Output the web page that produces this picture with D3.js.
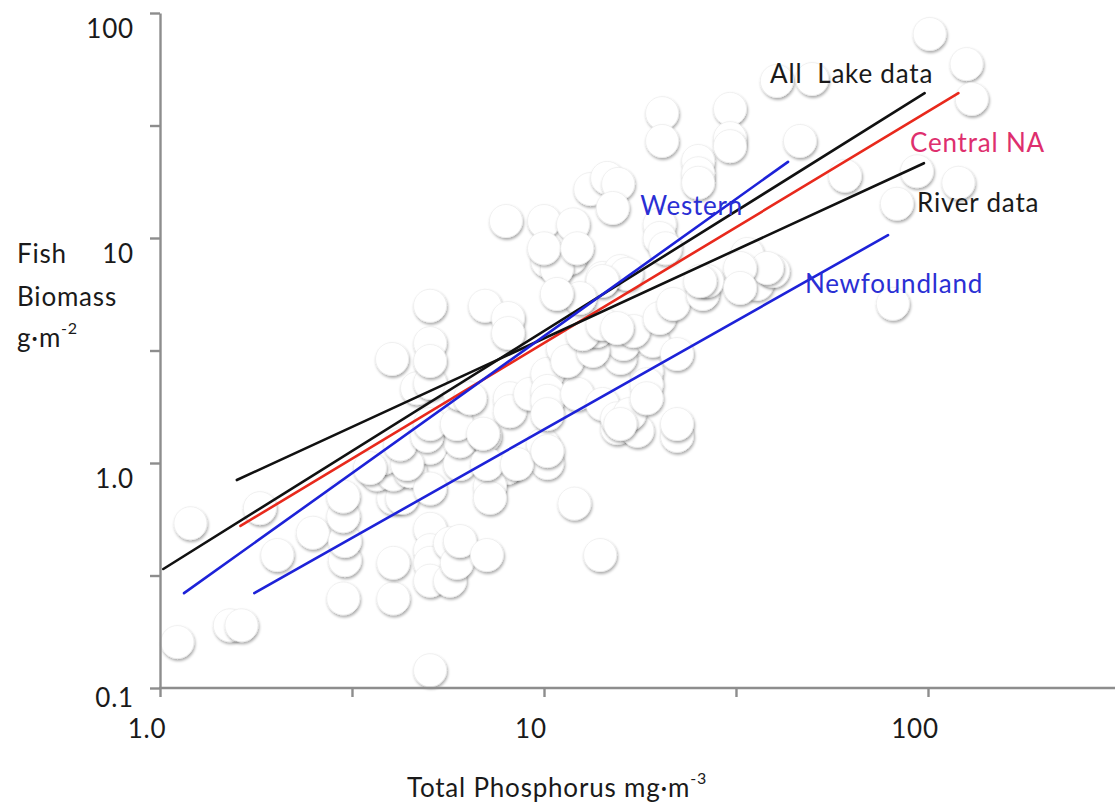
<!DOCTYPE html>
<html>
<head>
<meta charset="utf-8">
<script src="https://cdn.jsdelivr.net/npm/d3@7"></script>
<style>
  body { margin: 0; background: #fff; }
  svg { display: block; }
  text { font-family: Lato, "Open Sans", sans-serif; fill: #1a1a1a; letter-spacing: 0.8px; }
</style>
</head>
<body>
<svg id="chart" width="1115" height="802"></svg>
<script>
// Total phosphorus (mg·m-3) and fish biomass (g·m-2) for each lake
const phosphorus = [
  1.11, 1.2, 1.52, 1.63, 1.82, 2.02, 2.5, 3.0, 3.03, 3.03, 3.0, 3.0,
  4.05, 4.05, 4.05, 4.27, 3.67, 4.05, 4.48, 5.05, 5.05, 5.05, 5.05, 5.05,
  5.05, 5.05, 5.69, 5.69, 5.93, 6.04, 7.1, 14.0, 12.0, 22.2,
  6.04, 6.04, 7.02, 8.0, 7.23, 7.23, 9.94, 10.2, 15.5, 17.5, 3.81, 3.52,
  4.4, 7.1, 8.5, 4.22, 4.96, 5.05, 5.93, 6.94, 4.67, 5.05, 6.04, 6.42,
  8.15, 8.15, 9.2, 10.2, 10.2, 10.2, 10.2, 10.2, 12.2, 14.2, 15.5, 16.7,
  15.8, 22.2, 18.5, 18.5, 18.5, 15.8, 16.1, 19.2, 22.2, 17.1, 20.0, 21.7,
  25.9, 26.6, 33.0, 35.9, 39.5, 81, 11.2, 11.5, 13.4, 13.7, 12.6, 14.2,
  15.5, 10.2, 11.7, 10.8, 14.2, 15.8, 5.05, 5.05, 5.05, 4.02, 7.02, 8.06,
  8.06, 7.96, 10.0, 10.0, 11.9, 12.2, 13.2, 14.6, 15.6, 15.1, 20.0, 20.0,
  20.7, 16.4, 14.2, 25.5, 12.4, 10.8, 20.3, 20.3, 30.5, 30.5, 30.5, 25.2,
  25.2, 25.2, 46.4, 40.4, 49.9, 101, 126, 130, 60.8, 93.6, 120, 83,
  33.8, 38.1, 32.4, 32.4
];
const biomass = [
  0.16, 0.54, 0.19, 0.19, 0.63, 0.39, 0.49, 0.25, 0.37, 0.45, 0.58, 0.71,
  0.25, 0.36, 0.70, 0.70, 0.89, 0.89, 0.92, 1.17, 0.77, 0.51, 0.41, 0.36,
  0.30, 0.12, 0.44, 0.30, 0.36, 0.45, 0.39, 0.39, 0.66, 1.32,
  0.99, 1.25, 1.32, 0.95, 0.79, 0.70, 1.21, 1.0, 1.43, 1.39, 1.05, 0.95,
  0.99, 0.99, 0.99, 1.21, 1.32, 1.49, 1.49, 1.35, 2.15, 2.27, 2.03, 1.94,
  1.94, 1.70, 2.03, 2.49, 2.09, 1.89, 1.65, 1.13, 2.03, 1.83, 1.58, 1.65,
  1.49, 1.49, 2.56, 2.24, 1.94, 2.93, 3.38, 3.49, 3.05, 3.86, 4.41, 5.09,
  5.64, 6.44, 7.66, 6.25, 7.13, 5.1, 3.24, 2.84, 3.15, 3.86, 3.74, 4.15,
  3.98, 7.9, 8.15, 7.28, 6.64, 7.13, 5.0, 3.41, 2.84, 2.9, 5.0, 4.41,
  3.78, 11.9, 11.9, 9.0, 11.5, 9.0, 16.5, 18.5, 17.4, 13.6, 11.5, 10.0,
  9.0, 6.92, 6.44, 6.44, 5.41, 5.64, 35.9, 27.0, 37.5, 27.8, 25.6, 22.0,
  19.4, 17.6, 27.0, 49.9, 50.9, 80.7, 59.3, 41.5, 18.9, 19.8, 17.6, 14.2,
  8.49, 7.36, 7.36, 6.0
];

// Regression lines: name, start and end (TP, biomass)
const fitNames = ["All Lake data", "Central NA", "River data", "Western", "Newfoundland"];
const fitStartTP = [1.02, 1.62, 1.585, 1.155, 1.76];
const fitStartFB = [0.338, 0.525, 0.84, 0.264, 0.264];
const fitEndTP   = [98, 120, 97.6, 43.2, 78.7];
const fitEndFB   = [44, 44, 21.5, 21.8, 10.3];

// Line captions and where they sit (TP, biomass at text middle-left)
const captionText = ["All  Lake data", "Central NA", "River data", "Western", "Newfoundland"];
const captionTP = [38.8, 89.8, 93.6, 17.8, 47.8];
const captionFB = [54.1, 26.7, 14.5, 14.0, 6.31];

// Axis ticks (labelled decades and unlabelled half-decades)
const xTickValues = [1, 3.162, 10, 31.62, 100];
const yTickValues = [0.1, 0.3162, 1, 3.162, 10, 31.62, 100];
const xTickLabels = { 1: "1.0", 10: "10", 100: "100" };
const yTickLabels = { 0.1: "0.1", 1: "1.0", 10: "10", 100: "100" };

const lineColors = ["#111111", "#e8291c", "#111111", "#1d22d8", "#1d22d8"];
const captionColors = ["#1a1a1a", "#de2f6e", "#1a1a1a", "#2a2fd4", "#2a2fd4"];

const svg = d3.select("#chart");
const x0 = 160, decadeX = 384;
const xMax = 307;
const x = d3.scaleLog().domain([1, xMax]).range([x0, x0 + decadeX * Math.log10(xMax)]);
const y = d3.scaleLog().domain([0.1, 100]).range([688, 13]);

// Soft shadow beneath each bubble
const defs = svg.append("defs");
const f = defs.append("filter").attr("id", "bubbleShadow")
  .attr("x", "-40%").attr("y", "-40%").attr("width", "180%").attr("height", "180%");
f.append("feGaussianBlur").attr("in", "SourceAlpha").attr("stdDeviation", 1.8).attr("result", "blur");
f.append("feOffset").attr("in", "blur").attr("dx", 0.8).attr("dy", 2.2).attr("result", "off");
f.append("feComponentTransfer").attr("in", "off").attr("result", "shade")
  .append("feFuncA").attr("type", "linear").attr("slope", 0.34);
const merge = f.append("feMerge");
merge.append("feMergeNode").attr("in", "shade");
merge.append("feMergeNode").attr("in", "SourceGraphic");

const points = phosphorus.map((tp, i) => ({ tp, fb: biomass[i] }));

svg.append("g").selectAll("circle").data(points).join("circle")
  .attr("cx", d => x(d.tp))
  .attr("cy", d => y(d.fb))
  .attr("r", 16.5)
  .attr("fill", "#ffffff")
  .attr("stroke", "#ebebeb")
  .attr("stroke-width", 0.7)
  .attr("filter", "url(#bubbleShadow)");

// Axes
const axisColor = "#8d8d8d";
const xAxis = svg.append("g").attr("transform", `translate(0,${y(0.1)})`)
  .call(d3.axisBottom(x).tickValues(xTickValues).tickSize(9).tickSizeOuter(0).tickFormat(""));
const yAxis = svg.append("g").attr("transform", `translate(${x0},0)`)
  .call(d3.axisLeft(y).tickValues(yTickValues).tickSize(10).tickSizeOuter(0).tickFormat(""));
[xAxis, yAxis].forEach(g => {
  g.select(".domain").attr("stroke", axisColor).attr("stroke-width", 2.4);
  g.selectAll(".tick line").attr("stroke", axisColor).attr("stroke-width", 2.4);
});
xAxis.select(".domain").attr("d", `M${x0 - 1},0H1115`);

// Tick labels
svg.append("g").selectAll("text").data(Object.keys(xTickLabels).map(Number)).join("text")
  .attr("x", d => x(d) - 13)
  .attr("y", 728)
  .attr("text-anchor", "middle")
  .attr("dominant-baseline", "central")
  .attr("font-size", 26)
  .text(d => xTickLabels[d]);

svg.append("g").selectAll("text").data(Object.keys(yTickLabels).map(Number)).join("text")
  .attr("x", 134)
  .attr("y", d => y(d) + (d === 0.1 ? 9 : 15))
  .attr("text-anchor", "end")
  .attr("dominant-baseline", "central")
  .attr("font-size", 26)
  .text(d => yTickLabels[d]);

// Axis titles
const xt = svg.append("text").attr("x", 557).attr("y", 787)
  .attr("text-anchor", "middle").attr("dominant-baseline", "central").attr("font-size", 26);
xt.append("tspan").text("Total Phosphorus mg·m");
xt.append("tspan").attr("dy", -10).attr("font-size", 16).text("-3");

const yt = svg.append("g").attr("font-size", 26);
yt.append("text").attr("x", 17).attr("y", 253).attr("dominant-baseline", "central").text("Fish");
yt.append("text").attr("x", 17).attr("y", 296).attr("dominant-baseline", "central").text("Biomass");
const gm = yt.append("text").attr("x", 17).attr("y", 337).attr("dominant-baseline", "central");
gm.append("tspan").text("g·m");
gm.append("tspan").attr("dy", -10).attr("font-size", 16).text("-2");

// Regression lines
const fits = fitNames.map((name, i) => ({
  name,
  pts: [[fitStartTP[i], fitStartFB[i]], [fitEndTP[i], fitEndFB[i]]],
  color: lineColors[i]
}));
const line = d3.line().x(d => x(d[0])).y(d => y(d[1]));
svg.append("g").selectAll("path").data(fits).join("path")
  .attr("d", d => line(d.pts))
  .attr("fill", "none")
  .attr("stroke", d => d.color)
  .attr("stroke-width", 2.6)
  .attr("stroke-linecap", "round");

// Line captions
svg.append("g").selectAll("text").data(captionText).join("text")
  .attr("x", (d, i) => x(captionTP[i]))
  .attr("y", (d, i) => y(captionFB[i]))
  .attr("dominant-baseline", "central")
  .attr("font-size", 26)
  .style("white-space", "pre")
  .style("fill", (d, i) => captionColors[i])
  .text(d => d);
</script>
</body>
</html>
